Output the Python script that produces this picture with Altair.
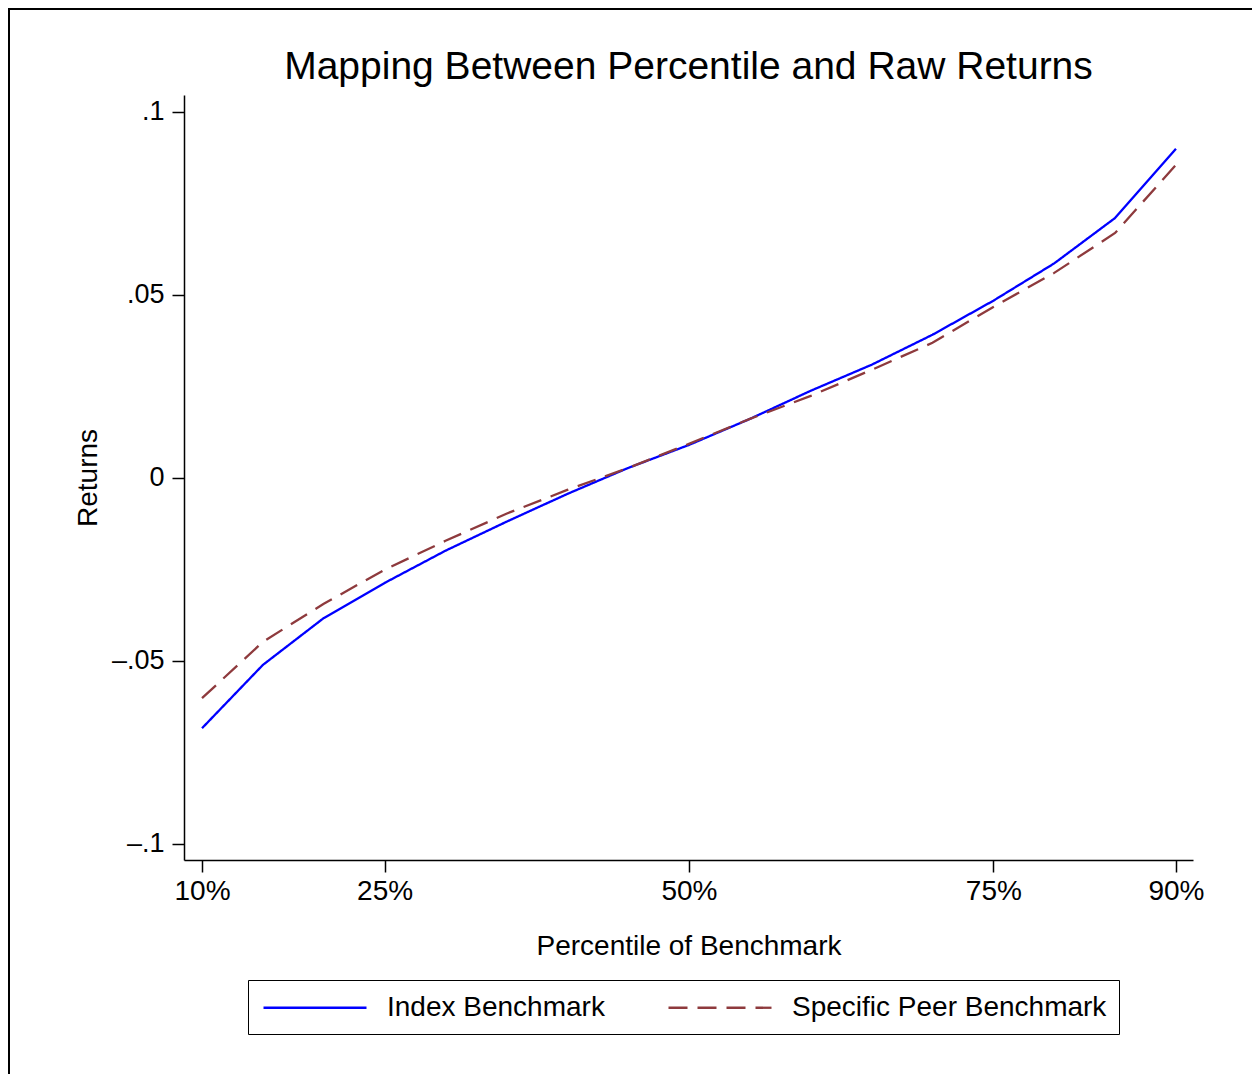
import altair as alt
import pandas as pd

percentiles = [10, 15, 20, 25, 30, 35, 40, 45, 50, 55, 60, 65, 70, 75, 80, 85, 90]
index_returns = [-0.0684, -0.0511, -0.0383, -0.0287, -0.0199, -0.0120, -0.0044, 0.0027,
                 0.0090, 0.0161, 0.0238, 0.0309, 0.0391, 0.0484, 0.0586, 0.0710, 0.0899]
peer_returns = [-0.0602, -0.0448, -0.0344, -0.0251, -0.0172, -0.0098, -0.0033, 0.0027,
                0.0093, 0.0161, 0.0224, 0.0295, 0.0369, 0.0467, 0.0560, 0.0669, 0.0855]
series_names = ["Index Benchmark", "Specific Peer Benchmark"]
x_ticks = [10, 25, 50, 75, 90]
y_ticks = [-0.1, -0.05, 0, 0.05, 0.1]

rows = []
for p, v in zip(percentiles, index_returns):
    rows.append({"pct": p, "ret": v, "series": series_names[0]})
for p, v in zip(percentiles, peer_returns):
    rows.append({"pct": p, "ret": v, "series": series_names[1]})
df = pd.DataFrame(rows)

FONT = "Liberation Sans"

lines = alt.Chart(df).mark_line(strokeWidth=2.3, clip=False).encode(
    x=alt.X("pct:Q",
            scale=alt.Scale(domain=[8.52, 91.4], nice=False, zero=False),
            axis=alt.Axis(values=x_ticks, labelExpr="datum.value + '%'",
                          title="Percentile of Benchmark", grid=False,
                          titleY=86, titleBaseline="middle")),
    y=alt.Y("ret:Q",
            scale=alt.Scale(domain=[-0.1044, 0.1046], nice=False, zero=False),
            axis=alt.Axis(values=y_ticks,
                          labelExpr="(datum.value < 0 ? '\u2013' : '') + replace(format(abs(datum.value), '.2~f'), '0.', '.')",
                          title="Returns", grid=False,
                          titleX=-96, titleY=382.5, titleBaseline="middle")),
    color=alt.Color("series:N",
                    scale=alt.Scale(domain=series_names, range=["#0000ff", "#8e3a3d"]),
                    legend=alt.Legend(title=None, orient="none", legendX=64, legendY=885,
                                      direction="horizontal", columns=2, columnPadding=58,
                                      symbolType="M-0.857,0H6.5", symbolSize=784,
                                      symbolStrokeWidth=2.3, labelOffset=96,
                                      labelFontSize=28, labelFont=FONT, labelColor="black",
                                      padding=12, strokeColor="black", fillColor="white",
                                      labelLimit=0)),
    strokeDash=alt.StrokeDash("series:N",
                              scale=alt.Scale(domain=series_names, range=[[1, 0], [19, 10]]),
                              legend=None),
)

frame = alt.Chart(alt.Data(values=[{"a": 1}])).mark_rect(
    fillOpacity=0, stroke="black", strokeWidth=2, clip=False
).encode(x=alt.value(-175), x2=alt.value(1100), y=alt.value(-86), y2=alt.value(1000))

chart = alt.layer(frame, lines).properties(
    width=1009, height=765,
    autosize=alt.AutoSizeParams(type="none"),
    padding={"left": 184, "top": 95, "right": 59, "bottom": 214},
    title=alt.TitleParams("Mapping Between Percentile and Raw Returns",
                          fontSize=39, font=FONT, fontWeight="normal", color="black",
                          anchor="middle", frame="group", baseline="alphabetic", offset=-110),
    background="white",
).configure_axis(
    domainColor="black", domainWidth=1.5, tickColor="black", tickWidth=1.5, tickSize=12,
    labelFontSize=28, labelFont=FONT, labelColor="black", labelPadding=5,
    titleFontSize=28, titleFont=FONT, titleColor="black", titleFontWeight="normal",
).configure_axisY(labelPadding=8, labelFontSize=27).configure_view(strokeWidth=0)

chart.save("out.html", embed_options={"renderer": "svg", "actions": False})
